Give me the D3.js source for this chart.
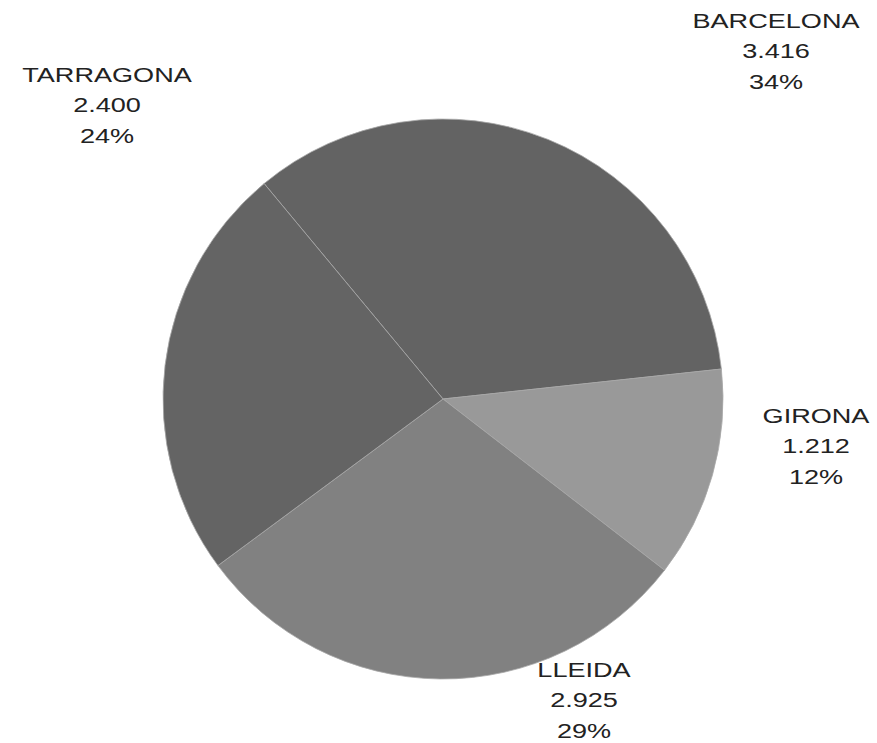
<!DOCTYPE html>
<html>
<head>
<meta charset="utf-8">
<script src="https://d3js.org/d3.v7.min.js"></script>
<style>
  body { margin: 0; background: #fff; }
  text { font-family: "Liberation Sans", Arial, sans-serif; font-size: 21px; fill: #222; }
</style>
</head>
<body>
<div id="chart"></div>
<script>
// data
var provinces = ["BARCELONA", "GIRONA", "LLEIDA", "TARRAGONA"];
var counts = [3416, 1212, 2925, 2400];
var sliceColors = ["#636363", "#999999", "#818181", "#646464"];

// label anchors (offset from pie centre, first line baseline)
var labelOffsets = [[333, -371], [373, 24], [141, 278], [-336, -317]];

var width = 877, height = 743;
var cx = 443, cy = 399, radius = 280;

var svg = d3.select("#chart").append("svg")
  .attr("width", width)
  .attr("height", height);

var g = svg.append("g").attr("transform", "translate(" + cx + "," + cy + ")");

var rows = provinces.map(function (p, i) { return { name: p, value: counts[i], i: i }; });
var total = d3.sum(counts);

var pie = d3.pie()
  .value(function (d) { return d.value; })
  .sort(null)
  .startAngle(-39.7 * Math.PI / 180)
  .endAngle(-39.7 * Math.PI / 180 + 2 * Math.PI);

var arc = d3.arc().innerRadius(0).outerRadius(radius);

g.selectAll("path.slice")
  .data(pie(rows))
  .enter()
  .append("path")
  .attr("class", "slice")
  .attr("d", arc)
  .attr("fill", function (d) { return sliceColors[d.data.i]; })
  .attr("stroke", "#a8a8a8")
  .attr("stroke-width", 0.8);

var es = d3.formatLocale({ decimal: ",", thousands: ".", grouping: [3], currency: ["", "€"] });
var fmt = es.format(",d");

var labels = g.selectAll("g.label")
  .data(rows)
  .enter()
  .append("g")
  .attr("class", "label")
  .attr("transform", function (d) {
    var o = labelOffsets[d.i];
    return "translate(" + o[0] + "," + o[1] + ") scale(1.29,1)";
  });

labels.each(function (d) {
  var lines = [d.name, fmt(d.value), Math.round(d.value / total * 100) + "%"];
  d3.select(this).selectAll("text")
    .data(lines)
    .enter()
    .append("text")
    .attr("text-anchor", "middle")
    .attr("y", function (t, k) { return k * 30.5; })
    .text(function (t) { return t; });
});
</script>
</body>
</html>
